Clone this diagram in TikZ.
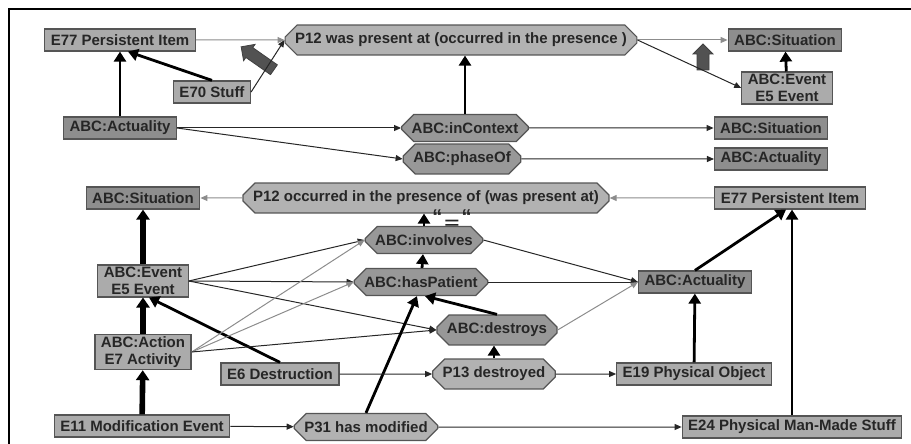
\documentclass[tikz,border=0pt]{standalone}
\usepackage{fontspec}
\setmainfont{Liberation Sans}
\usetikzlibrary{arrows.meta}
\usetikzlibrary{shapes.misc}
\usetikzlibrary{shapes.arrows}

\definecolor{boxE}{HTML}{ABABAB}
\definecolor{boxA}{HTML}{8E8E8E}
\definecolor{propP}{HTML}{B2B2B2}
\definecolor{propA}{HTML}{989898}
\definecolor{edgeline}{HTML}{555555}

\tikzset{
  ebox/.style={rectangle, draw=edgeline, fill=boxE, line width=0.6pt, minimum height=11pt, inner xsep=3pt, inner ysep=1pt, align=center},
  abox/.style={ebox, fill=boxA},
  pprop/.style={chamfered rectangle, chamfered rectangle xsep=3pt, chamfered rectangle ysep=3pt, draw=edgeline, fill=propP, line width=0.6pt, minimum height=10pt, inner xsep=2pt, inner ysep=1pt},
  aprop/.style={pprop, fill=propA},
  rel/.style={draw=black!85, line width=0.5pt, -{Triangle[length=3.5pt,width=3pt]}},
  relgray/.style={draw=black!45, line width=0.5pt, -{Triangle[length=3.5pt,width=3pt]}},
  isa/.style={draw=black, line width=1.4pt, -{Triangle[length=5pt,width=6pt]}},
  isabig/.style={draw=black, line width=2.8pt, -{Triangle[length=5pt,width=6.5pt]}},
  bigarrow/.style={single arrow, draw=black!75, fill=black!68, inner sep=2.8pt, single arrow head extend=2pt}
}

\begin{document}
\begin{tikzpicture}[x=0.5pt,y=-0.5pt,font=\fontsize{7.5}{8.6}\selectfont\bfseries,text=black!85]
\useasboundingbox (0,0) rectangle (911,444);
\draw[line width=0.8pt] (9,444) -- (9,9) -- (911,9);

% upper part
\node[ebox] (e77a) at (120,40) {E77 Persistent Item};
\node[pprop] (p12a) at (461,40) {P12 was present at (occurred in the presence )};
\node[abox] (sit1) at (785,40) {ABC:Situation};
\node[ebox] (e70) at (212,92) {E70 Stuff};
\node[ebox] (ev1) at (787,88) {ABC:Event\\E5 Event};
\node[abox] (act1) at (120,128) {ABC:Actuality};
\node[aprop] (inctx) at (465,128) {ABC:inContext};
\node[abox] (sit2) at (771,128) {ABC:Situation};
\node[aprop] (phase) at (462,159) {ABC:phaseOf};
\node[abox] (act2) at (771,159) {ABC:Actuality};
\node[bigarrow, minimum height=20pt, rotate=145] (blk1) at (260,60) {};
\node[bigarrow, minimum height=13pt, rotate=90] (blk2) at (703,60) {};

\path (e77a) edge[relgray] (p12a);
\path (e70.north) edge[isa] ([xshift=4pt]e77a.south);
\path (act1) edge[isa] (e77a);
\path (e70.east) edge[rel] (p12a.west);
\path (p12a.east) edge[relgray] (sit1.west);
\path (p12a.east) edge[rel] (ev1.west);
\path (ev1) edge[isa] (sit1);
\path (inctx.north) edge[isa] (inctx.north |- p12a.south);
\path (act1.east) edge[rel] (inctx.west);
\path (act1.east) edge[rel] (phase.west);
\path (inctx) edge[rel] (sit2);
\path (phase) edge[rel] (act2);

% lower part
\node[abox] (sit3) at (143,198) {ABC:Situation};
\node[pprop] (p12b) at (426,198) {P12 occurred in the presence of (was present at)};
\node[ebox] (e77b) at (790,198) {E77 Persistent Item};
\node[font=\fontsize{10}{10}\selectfont\bfseries] (quot) at (452,219) {“\kern1pt\raisebox{-2.5pt}{\scalebox{1.3}[0.8]{=}}\kern1pt“};
\node[aprop] (inv) at (424,240) {ABC:involves};
\node[ebox] (ev2) at (143,281) {ABC:Event\\E5 Event};
\node[aprop] (hasp) at (421,282) {ABC:hasPatient};
\node[abox] (act4) at (695,282) {ABC:Actuality};
\node[aprop] (destr) at (497,330) {ABC:destroys};
\node[ebox] (act3) at (143,352) {ABC:Action\\E7 Activity};
\node[ebox] (e6) at (280,374) {E6 Destruction};
\node[pprop] (p13) at (494,374) {P13 destroyed};
\node[ebox] (e19) at (694,374) {E19 Physical Object};
\node[ebox] (e11) at (142,426) {E11 Modification Event};
\node[pprop] (p31) at (366,427) {P31 has modified};
\node[ebox] (e24) at (792,427) {E24 Physical Man-Made Stuff};

\path (e77b) edge[relgray] (p12b);
\path (p12b) edge[relgray] (sit3);
\path (ev2) edge[isabig] (sit3);
\path (act3) edge[isabig] (ev2);
\path (e11) edge[isabig] (act3);
\path (e6.north) edge[isa] ([xshift=3pt]ev2.south);
\path (ev2.east) edge[rel] (inv.west);
\path (ev2.east) edge[rel] (hasp.west);
\path (ev2.east) edge[rel] (destr.west);
\path (act3.east) edge[relgray] (inv.west);
\path (act3.east) edge[relgray] (hasp.west);
\path (act3.east) edge[rel] (destr.west);
\path (hasp) edge[isa] (inv);
\path (inv.north) edge[isa] (inv.north |- p12b.south);
\path (destr.north) edge[isa] ([xshift=2pt]hasp.south);
\path (p31.north) edge[isa] ([xshift=-2pt]hasp.south);
\path (p13.north) edge[isa] (p13.north |- destr.south);
\path (e6) edge[rel] (p13);
\path (p13) edge[rel] (e19);
\path (e11) edge[rel] (p31);
\path (p31) edge[rel] (e24);
\path (e19) edge[isa] (act4);
\path (act4.north) edge[isa] ([xshift=-2pt]e77b.south);
\path (e24.north) edge[isa] (e24.north |- e77b.south);
\path (inv.east) edge[rel] (act4.west);
\path (hasp.east) edge[rel] (act4.west);
\path (destr.east) edge[relgray] (act4.west);
\end{tikzpicture}
\end{document}
